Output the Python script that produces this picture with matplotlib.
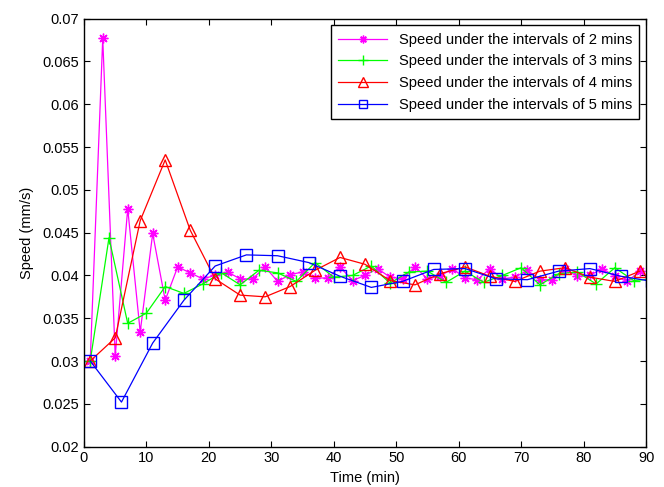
import matplotlib
matplotlib.use('Agg')
import matplotlib.pyplot as plt
import numpy as np

plt.rcParams['font.family'] = ['Liberation Sans', 'DejaVu Sans']

# speed readings (mm/s) at each sampling interval
t2 = np.arange(1, 90, 2)
v2 = [0.0300, 0.0677, 0.0306, 0.0478, 0.0334, 0.0449, 0.0371, 0.0410, 0.0403, 0.0396,
      0.0400, 0.0404, 0.0396, 0.0396, 0.0410, 0.0393, 0.0401, 0.0404, 0.0397, 0.0397,
      0.0410, 0.0394, 0.0400, 0.0408, 0.0398, 0.0396, 0.0410, 0.0396, 0.0399, 0.0408,
      0.0397, 0.0395, 0.0408, 0.0396, 0.0398, 0.0406, 0.0395, 0.0395, 0.0407, 0.0399,
      0.0400, 0.0408, 0.0399, 0.0393, 0.0405]

t3 = np.arange(1, 92, 3)
v3 = [0.0300, 0.0444, 0.0344, 0.0356, 0.0387, 0.0379, 0.0390, 0.0403, 0.0389, 0.0406,
      0.0403, 0.0393, 0.0415, 0.0398, 0.0400, 0.0411, 0.0391, 0.0404, 0.0405, 0.0392,
      0.0405, 0.0392, 0.0400, 0.0409, 0.0389, 0.0402, 0.0404, 0.0390, 0.0409, 0.0394,
      0.0396]

t4 = np.arange(1, 90, 4)
v4 = [0.0300, 0.0327, 0.0464, 0.0535, 0.0453, 0.0396, 0.0377, 0.0375, 0.0387, 0.0406,
      0.0421, 0.0413, 0.0394, 0.0389, 0.0402, 0.0410, 0.0399, 0.0393, 0.0405, 0.0409,
      0.0398, 0.0393, 0.0405]

t5 = np.arange(1, 92, 5)
v5 = [0.0300, 0.0252, 0.0321, 0.0371, 0.0411, 0.0424, 0.0423, 0.0415, 0.0399, 0.0386,
      0.0393, 0.0407, 0.0408, 0.0396, 0.0395, 0.0405, 0.0408, 0.0399, 0.0393]

fig = plt.figure(figsize=(6.64, 4.87), dpi=100)
ax = fig.add_axes([0.1265, 0.083, 0.8465, 0.8786])

ax.plot(t2, v2, color='#ff00ff', lw=0.9, marker=(8, 2, 0), ms=7, mew=1,
        label='Speed under the intervals of 2 mins')
ax.plot(t3, v3, color='#00ff00', lw=0.9, marker='+', ms=9, mew=1,
        label='Speed under the intervals of 3 mins')
ax.plot(t4, v4, color='#ff0000', lw=0.9, marker='^', ms=9, mfc='none', mew=1,
        label='Speed under the intervals of 4 mins')
ax.plot(t5, v5, color='#0000ff', lw=0.9, marker='s', ms=8, mfc='none', mew=1,
        label='Speed under the intervals of 5 mins')

ax.set_xlim(0, 90)
ax.set_ylim(0.02, 0.07)
ax.set_xticks(np.arange(0, 91, 10))
ax.set_yticks(np.arange(0.02, 0.0701, 0.005))
ax.set_yticklabels(['0.02', '0.025', '0.03', '0.035', '0.04', '0.045',
                    '0.05', '0.055', '0.06', '0.065', '0.07'])
ax.tick_params(direction='in', top=True, right=True, length=4, labelsize=10.5)
for s in ax.spines.values():
    s.set_linewidth(1.0)

ax.set_xlabel('Time (min)', fontsize=10.5, labelpad=4)
ax.set_ylabel('Speed (mm/s)', fontsize=10.5, labelpad=6)

leg = ax.legend(loc='upper right', fontsize=10.6, fancybox=False, framealpha=1,
                edgecolor='black', borderaxespad=0.45, handlelength=3.3,
                labelspacing=0.52, borderpad=0.5, markerscale=0.8)
leg.get_frame().set_linewidth(1.0)

fig.savefig('out.png', dpi=100)
